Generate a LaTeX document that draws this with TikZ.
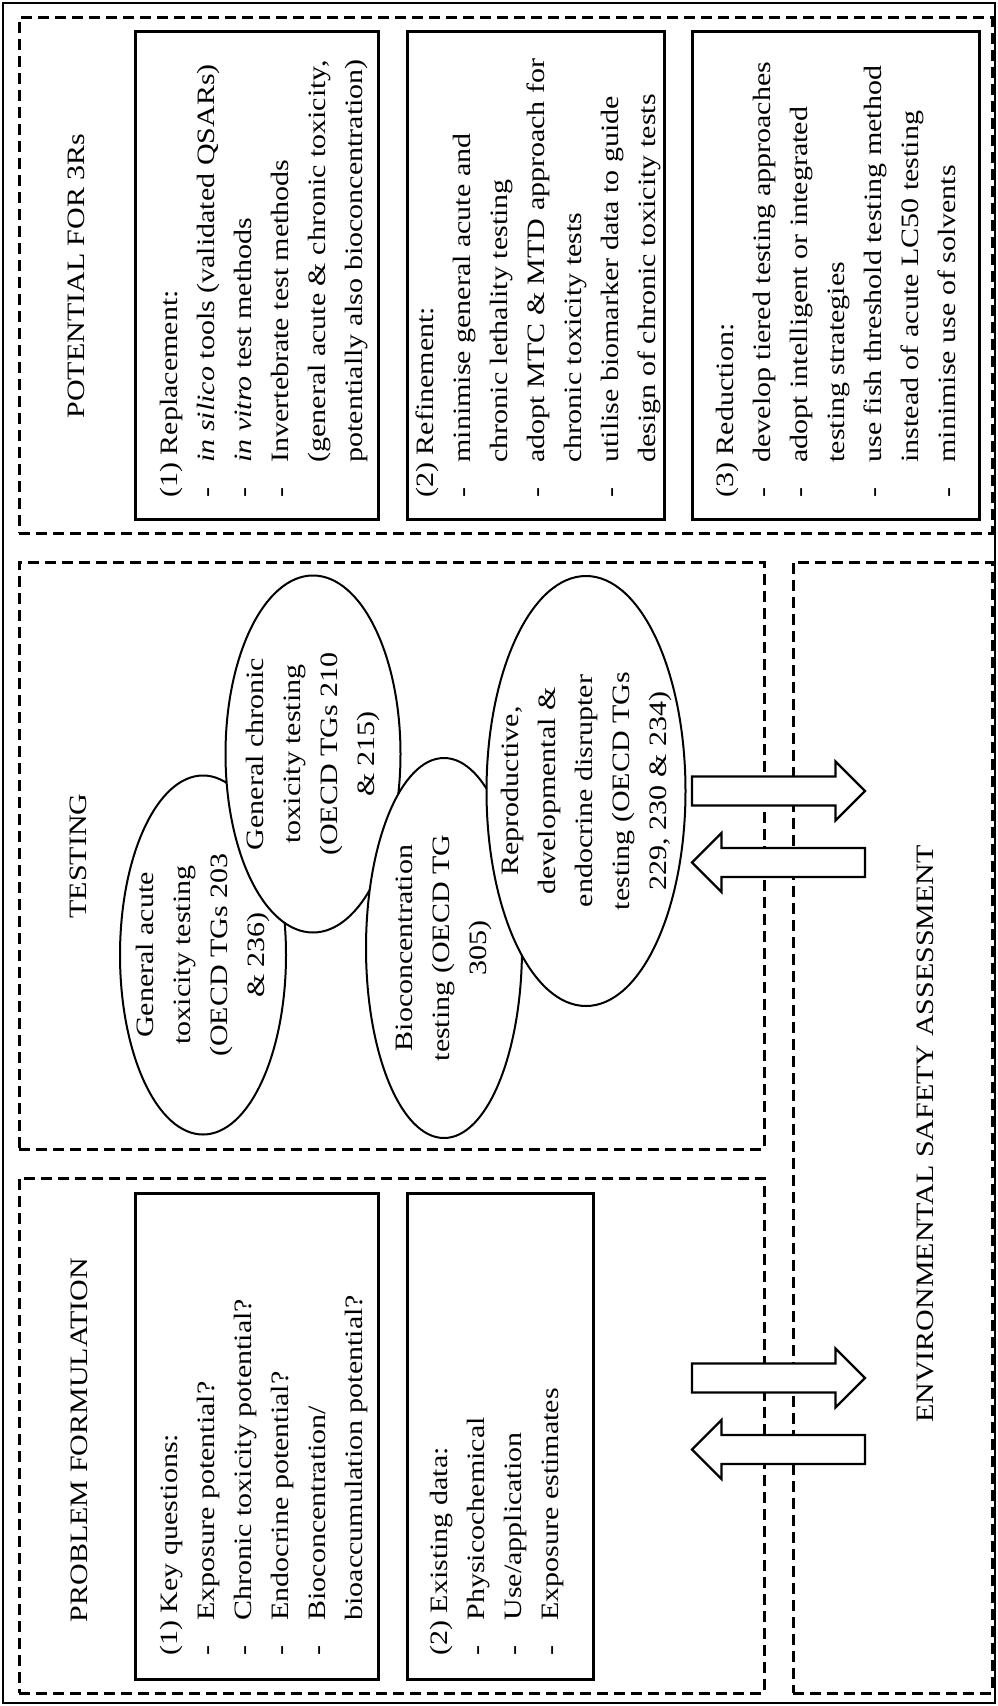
\documentclass[tikz,border=0pt]{standalone}
\usepackage{fontspec}
\setmainfont{Liberation Serif}[FakeStretch=1.2]
\usetikzlibrary{shapes.geometric}
\newcommand\itemdash{\makebox[17.5pt][l]{-}}
\newcommand\itemind{\hspace*{17.5pt}}
\newcommand\firststrut{\rule{0pt}{10pt}}
\begin{document}
\begin{tikzpicture}[x=0.5pt,y=-0.5pt,
  dashbox/.style={draw, line width=1.5pt, dash pattern=on 5.5pt off 3pt, anchor=north west, inner sep=0pt, outer sep=0pt},
  solidbox/.style={draw, line width=1.5pt, anchor=north west, inner sep=0pt, outer sep=0pt},
  txt/.style={rotate=90, anchor=north west, inner sep=0pt, align=left, font=\fontsize{12.5}{18.5}\selectfont},
  title/.style={rotate=90, inner sep=0pt, font=\fontsize{12.5}{18.5}\selectfont},
  ell/.style={ellipse, draw, line width=1pt, fill=white, rotate=90, inner sep=0pt},
  etxt/.style={rotate=90, inner sep=0pt, align=center, font=\fontsize{12.5}{18.5}\selectfont},
  barrow/.style={draw, line width=1.1pt, fill=white, line join=miter}
]
\useasboundingbox (0,0) rectangle (997,1706);
% outer frame
\node[draw, line width=1.25pt, anchor=north west, inner sep=0pt, outer sep=0pt, minimum width=496pt, minimum height=850pt] (frame) at (3,3) {};
% dashed areas
\node[dashbox, minimum width=486.5pt, minimum height=257.5pt] (pot) at (19,18) {};
\node[dashbox, minimum width=372.5pt, minimum height=293.5pt] (test) at (19,562) {};
\node[dashbox, minimum width=372.5pt, minimum height=257.5pt] (prob) at (19,1178) {};
\node[dashbox, minimum width=99.5pt, minimum height=565.5pt] (esa) at (793,562) {};
% solid boxes
\node[solidbox, minimum width=121.5pt, minimum height=243.5pt] (r1) at (135,32) {};
\node[solidbox, minimum width=128.5pt, minimum height=243.5pt] (r2) at (407,32) {};
\node[solidbox, minimum width=143.5pt, minimum height=243.5pt] (r3) at (692,32) {};
\node[solidbox, minimum width=121.5pt, minimum height=243pt] (p1) at (135,1193) {};
\node[solidbox, minimum width=93pt, minimum height=243pt] (p2) at (407,1193) {};
% titles
\node[title] (potT) at (76,276) {POTENTIAL FOR 3Rs};
\node[title] (testT) at (78,856) {TESTING};
\node[title] (probT) at (79.5,1440) {PROBLEM FORMULATION};
\node[title] (esaT) at (925,1134) {ENVIRONMENTAL SAFETY ASSESSMENT};
% box texts
\node[txt] (r1t) at (157,498) {\firststrut(1) Replacement:\\
\itemdash\textit{in silico} tools (validated QSARs)\\
\itemdash\textit{in vitro} test methods\\
\itemdash Invertebrate test methods\\
\itemind(general acute \& chronic toxicity,\\
\itemind potentially also bioconcentration)};
\node[txt] (r2t) at (413,498) {\firststrut(2) Refinement:\\
\itemdash minimise general acute and\\
\itemind chronic lethality testing\\
\itemdash adopt MTC \& MTD approach for\\
\itemind chronic toxicity tests\\
\itemdash utilise biomarker data to guide\\
\itemind design of chronic toxicity tests};
\node[txt] (r3t) at (713,498) {\firststrut(3) Reduction:\\
\itemdash develop tiered testing approaches\\
\itemdash adopt intelligent or integrated\\
\itemind testing strategies\\
\itemdash use fish threshold testing method\\
\itemind instead of acute LC50 testing\\
\itemdash minimise use of solvents};
\node[txt] (p1t) at (157,1656) {\firststrut(1) Key questions:\\
\itemdash Exposure potential?\\
\itemdash Chronic toxicity potential?\\
\itemdash Endocrine potential?\\
\itemdash Bioconcentration/\\
\itemind bioaccumulation potential?};
\node[txt] (p2t) at (427,1656) {\firststrut(2) Existing data:\\
\itemdash Physicochemical\\
\itemdash Use/application\\
\itemdash Exposure estimates};
% ellipses
\node[ell, minimum width=179.5pt, minimum height=83pt] (e1) at (203,955) {};
\node[etxt] (e1t) at (e1.center) {General acute\\toxicity testing\\(OECD TGs 203\\\& 236)};
\node[ell, minimum width=178.5pt, minimum height=87.5pt] (e2) at (313,754) {};
\node[etxt] (e2t) at (e2.center) {General chronic\\toxicity testing\\(OECD TGs 210\\\& 215)};
\node[ell, minimum width=190pt, minimum height=78pt] (e3) at (444,948) {};
\node[etxt] (e3t) at (e3.center) {Bioconcentration\\testing (OECD TG\\305)};
\node[ell, minimum width=215pt, minimum height=99.5pt] (e4) at (586,791) {};
\node[etxt] (e4t) at (e4.center) {Reproductive,\\developmental \&\\endocrine disrupter\\testing (OECD TGs\\229, 230 \& 234)};
% block arrows
\draw[barrow] (692,776.5) -- (835.5,776.5) -- (835.5,761.5) -- (865,791) -- (835.5,820.5) -- (835.5,805.5) -- (692,805.5) -- cycle;
\draw[barrow] (865,848) -- (721.5,848) -- (721.5,833) -- (692,862.5) -- (721.5,892) -- (721.5,877) -- (865,877) -- cycle;
\draw[barrow] (692,1363.5) -- (835.5,1363.5) -- (835.5,1348.5) -- (865,1378) -- (835.5,1407.5) -- (835.5,1392.5) -- (692,1392.5) -- cycle;
\draw[barrow] (865,1435) -- (721.5,1435) -- (721.5,1420) -- (692,1449.5) -- (721.5,1479) -- (721.5,1464) -- (865,1464) -- cycle;
\end{tikzpicture}
\end{document}
